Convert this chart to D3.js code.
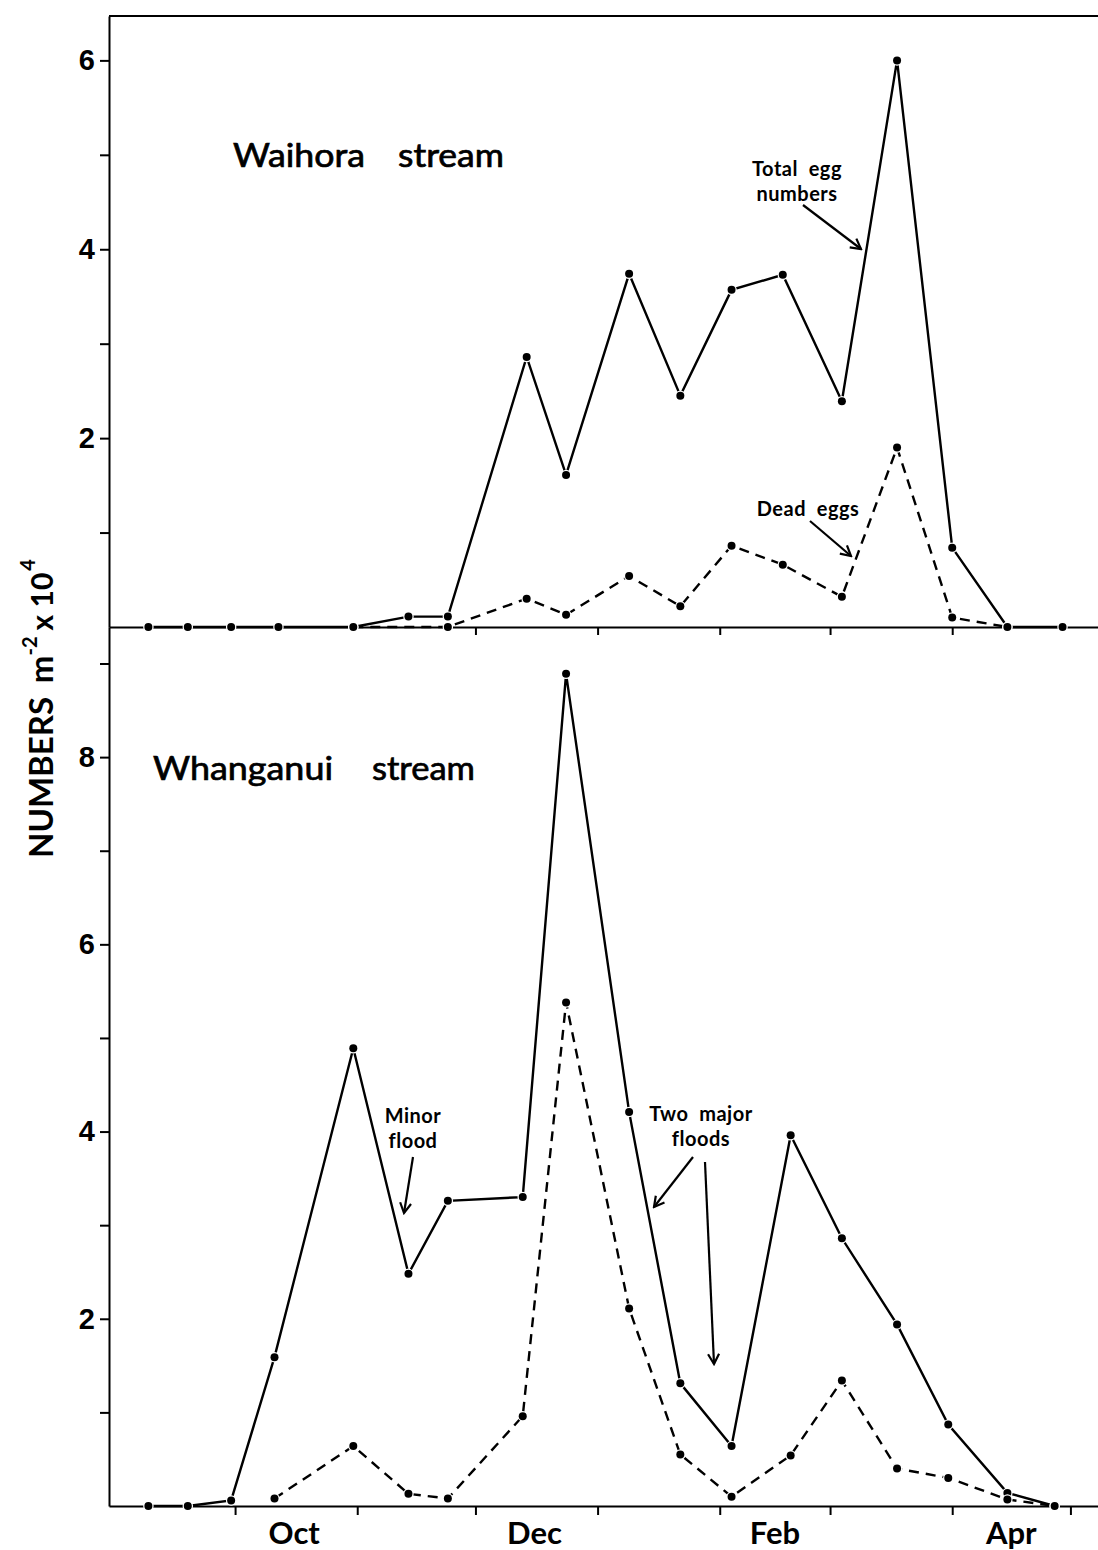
<!DOCTYPE html>
<html>
<head>
<meta charset="utf-8">
<script src="https://cdn.jsdelivr.net/npm/d3@7"></script>
<style>
  body { margin: 0; background: #fff; }
  svg { display: block; font-family: Lato, "DejaVu Sans", sans-serif; }
</style>
</head>
<body>
<div id="chart"></div>
<script>
// sampling dates, season assumed 1976-77 (year is not printed on the figure)
const waihoraDates = ["1976-09-09", "1976-09-19", "1976-09-30", "1976-10-12", "1976-10-31", "1976-11-14",
    "1976-11-24", "1976-12-14", "1976-12-24", "1977-01-09", "1977-01-22", "1977-02-04", "1977-02-17",
    "1977-03-04", "1977-03-18", "1977-04-01", "1977-04-15", "1977-04-29"]
const waihoraTotal = [0, 0, 0, 0, 0, 0.11, 0.11, 2.86, 1.61, 3.74, 2.45, 3.57, 3.73, 2.39, 6.0, 0.84, 0, 0]
const waihoraDead = [null, null, null, null, 0, null, 0, 0.30, 0.13, 0.54, 0.22, 0.86, 0.66, 0.32, 1.90, 0.10, 0, null]

const whanganuiDates = ["1976-09-09", "1976-09-19", "1976-09-30", "1976-10-11", "1976-10-31", "1976-11-14",
    "1976-11-24", "1976-12-13", "1976-12-24", "1977-01-09", "1977-01-22", "1977-02-04", "1977-02-19",
    "1977-03-04", "1977-03-18", "1977-03-31", "1977-04-15", "1977-04-27"]
const whanganuiTotal = [0, 0, 0.06, 1.59, 4.89, 2.48, 3.26, 3.30, 8.89, 4.21, 1.31, 0.64, 3.96, 2.86, 1.94, 0.87, 0.14, 0]
const whanganuiDead = [null, null, null, 0.08, 0.64, 0.13, 0.08, 0.96, 5.38, 2.11, 0.55, 0.10, 0.54, 1.34, 0.40, 0.30, 0.07, 0]

const monthTicks = ["1976-10-01", "1976-11-01", "1976-12-01", "1977-01-01", "1977-02-01", "1977-03-01", "1977-04-01", "1977-05-01"]
const middleTicks = ["1976-12-01", "1977-01-01", "1977-02-01", "1977-03-01", "1977-04-01"]
const monthLabels = ["Oct", "Dec", "Feb", "Apr"]
const monthLabelDates = ["1976-10-16", "1976-12-16", "1977-02-15", "1977-04-16"]

const width = 1098
const height = 1550
const left = 109
const parse = d3.timeParse("%Y-%m-%d")

const x = d3.scaleTime()
    .domain([parse("1976-08-30"), parse("1977-05-08")])
    .range([left, width])

const panels = [
    {name: "Waihora", dates: waihoraDates, total: waihoraTotal, dead: waihoraDead, yMax: 6.47, top: 16, bottom: 627},
    {name: "Whanganui", dates: whanganuiDates, total: whanganuiTotal, dead: whanganuiDead, yMax: 9.39, top: 627, bottom: 1506}
]

const svg = d3.select("#chart")
    .append("svg")
    .attr("width", width)
    .attr("height", height)

svg.append("defs").append("marker")
    .attr("id", "arrow")
    .attr("viewBox", "-12 -7 14 14")
    .attr("markerWidth", 14)
    .attr("markerHeight", 14)
    .attr("markerUnits", "userSpaceOnUse")
    .attr("orient", "auto")
    .append("path")
    .attr("d", "M-10,-5.5 L0,0 L-10,5.5")
    .attr("fill", "none")
    .attr("stroke", "#000")
    .attr("stroke-width", 2.2)

const toPoints = (dates, values) => dates
    .map((d, i) => ({date: parse(d), v: values[i]}))
    .filter(p => p.v !== null)

panels.forEach(p => {
    p.y = d3.scaleLinear().domain([0, p.yMax]).range([p.bottom, p.top])

    const yAxis = svg.append("g")
        .attr("transform", `translate(${left},0)`)
        .call(d3.axisLeft(p.y)
            .tickValues(d3.range(1, Math.floor(p.yMax) + 1))
            .tickSize(9)
            .tickSizeOuter(0)
            .tickPadding(5)
            .tickFormat(d => d % 2 === 0 ? d : ""))
    yAxis.selectAll("line, path").attr("stroke", "#000").attr("stroke-width", 2)
    yAxis.selectAll("text")
        .attr("fill", "#000")
        .style("font-size", "29px")
        .style("font-weight", "700")
})

// top frame line
svg.append("line")
    .attr("x1", left).attr("x2", width)
    .attr("y1", panels[0].y(panels[0].yMax)).attr("y2", panels[0].y(panels[0].yMax))
    .attr("stroke", "#000").attr("stroke-width", 2)

const middleAxis = svg.append("g")
    .attr("transform", `translate(0,${panels[0].y(0)})`)
    .call(d3.axisBottom(x).tickValues(middleTicks.map(parse)).tickSize(8).tickSizeOuter(0).tickFormat(""))
middleAxis.selectAll("line, path").attr("stroke", "#000").attr("stroke-width", 2)

const bottomAxis = svg.append("g")
    .attr("transform", `translate(0,${panels[1].y(0)})`)
    .call(d3.axisBottom(x).tickValues(monthTicks.map(parse)).tickSize(9).tickSizeOuter(0).tickFormat(""))
bottomAxis.selectAll("line, path").attr("stroke", "#000").attr("stroke-width", 2)

svg.append("g")
    .selectAll("text")
    .data(monthLabels)
    .join("text")
    .attr("x", (d, i) => x(parse(monthLabelDates[i])))
    .attr("y", panels[1].y(0) + 38)
    .attr("text-anchor", "middle")
    .style("font-size", "31px")
    .style("font-weight", "700")
    .text(d => d)

panels.forEach(p => {
    const line = d3.line()
        .x(d => x(d.date))
        .y(d => p.y(d.v))
    const total = toPoints(p.dates, p.total)
    const dead = toPoints(p.dates, p.dead)

    svg.append("path")
        .datum(dead)
        .attr("fill", "none")
        .attr("stroke", "#000")
        .attr("stroke-width", 2.4)
        .attr("stroke-dasharray", "10,7")
        .attr("d", line)

    svg.append("path")
        .datum(total)
        .attr("fill", "none")
        .attr("stroke", "#000")
        .attr("stroke-width", 2.4)
        .attr("d", line)

    svg.append("g")
        .selectAll("circle")
        .data(total.concat(dead))
        .join("circle")
        .attr("cx", d => x(d.date))
        .attr("cy", d => p.y(d.v))
        .attr("r", 4)
        .attr("fill", "#000")
        .attr("stroke", "#fff")
        .attr("stroke-width", 2.5)
        .attr("paint-order", "stroke")
})

// stream titles
const titles = [
    {words: ["Waihora", "stream"], xs: [233, 398], lens: [132, 106], y: 167},
    {words: ["Whanganui", "stream"], xs: [153, 372], lens: [180, 103], y: 780}
]
titles.forEach(t => t.words.forEach((w, i) => {
    svg.append("text")
        .attr("x", t.xs[i])
        .attr("y", t.y)
        .attr("textLength", t.lens[i])
        .attr("lengthAdjust", "spacingAndGlyphs")
        .attr("stroke", "#000")
        .attr("stroke-width", 0.7)
        .style("font-size", "32px")
        .style("font-weight", "400")
        .text(w)
}))

// annotations
const notes = [
    {lines: ["Total  egg", "numbers"], x: 797, y: 176, arrows: [[803, 205, 861, 249]]},
    {lines: ["Dead  eggs"], x: 808, y: 516, arrows: [[810, 521, 851, 556]]},
    {lines: ["Minor", "flood"], x: 413, y: 1123, arrows: [[413, 1157, 404, 1213]]},
    {lines: ["Two  major", "floods"], x: 701, y: 1121, arrows: [[693, 1157, 654, 1207], [705, 1162, 714, 1364]]}
]
notes.forEach(n => {
    n.lines.forEach((l, i) => {
        svg.append("text")
            .attr("x", n.x)
            .attr("y", n.y + i * 25)
            .attr("text-anchor", "middle")
            .style("font-size", "20px")
            .style("font-weight", "700")
            .style("letter-spacing", "0.5px")
            .style("white-space", "pre")
            .text(l)
    })
    n.arrows.forEach(a => {
        svg.append("line")
            .attr("x1", a[0]).attr("y1", a[1])
            .attr("x2", a[2]).attr("y2", a[3])
            .attr("stroke", "#000")
            .attr("stroke-width", 2.2)
            .attr("marker-end", "url(#arrow)")
    })
})

// y axis title
const yTitle = svg.append("text")
    .attr("transform", "translate(53,858) rotate(-90)")
    .style("font-weight", "700")
yTitle.append("tspan").style("font-size", "33px").text("NUMBERS")
yTitle.append("tspan").attr("dx", 14).style("font-size", "33px").text("m")
yTitle.append("tspan").attr("dy", -16).style("font-size", "20px").text("-2")
yTitle.append("tspan").attr("dy", 16).attr("dx", 6).style("font-size", "30px").text("x 10")
yTitle.append("tspan").attr("dy", -18).attr("dx", 2).style("font-size", "20px").text("4")
</script>
</body>
</html>
